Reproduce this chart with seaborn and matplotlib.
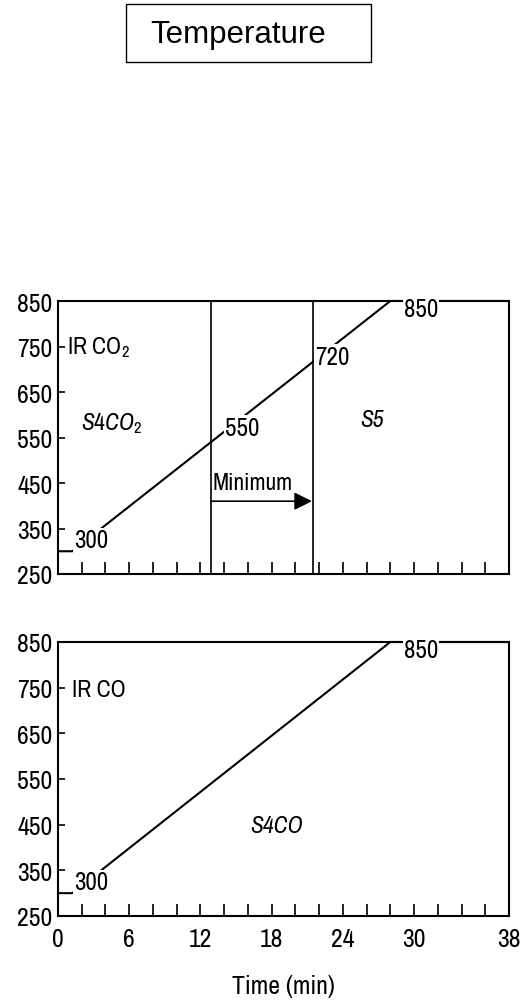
import matplotlib
matplotlib.use("Agg")
import matplotlib.pyplot as plt
import seaborn as sns
import pandas as pd
from matplotlib.patches import Rectangle

# ---- data ----
time_min = [0, 1.2, 28, 38]
temp_c = [300, 300, 850, 850]
phase_bounds = [12.9, 21.5]
y_ticks = [250, 350, 450, 550, 650, 750, 850]
x_ticks = list(range(0, 39, 2))
x_tick_labels = {0: "0", 6: "6", 12: "12", 18: "18", 24: "24", 30: "30", 38: "38"}

df = pd.DataFrame({"Time (min)": time_min, "Temperature": temp_c})

sns.set_theme(style="white")
NARROW = ["Archivo Narrow", "DejaVu Sans"]
plt.rcParams["font.family"] = NARROW
plt.rcParams["mathtext.fontset"] = "custom"
plt.rcParams["mathtext.rm"] = "Archivo Narrow"
plt.rcParams["mathtext.it"] = "Archivo Narrow:italic"
for k in ["text.color", "axes.labelcolor", "xtick.color", "ytick.color"]:
    plt.rcParams[k] = "black"

fig = plt.figure(figsize=(5.24, 10.03), dpi=100)
W, H = 524, 1003
ax1 = fig.add_axes([58 / W, 1 - 575 / H, 451 / W, 273 / H])
ax2 = fig.add_axes([58 / W, 1 - 917 / H, 451 / W, 274 / H])

LW = 1.5
FS_TICK = 18.5
FS_VAL = 18
FS = 17
for ax in (ax1, ax2):
    sns.lineplot(data=df, x="Time (min)", y="Temperature", ax=ax, color="black",
                 lw=LW, clip_on=False, zorder=3)
    ax.set_xlim(0, 38)
    ax.set_ylim(250, 850)
    ax.set_yticks(y_ticks)
    ax.set_yticklabels([str(v) for v in y_ticks], fontsize=FS_TICK)
    ax.set_xticks(x_ticks)
    ax.tick_params(axis="x", direction="in", length=9, width=1.2, color="black",
                   pad=8, bottom=True)
    ax.tick_params(axis="y", direction="in", length=5, width=1.2, color="black",
                   pad=4, left=True)
    for s in ax.spines.values():
        s.set_color("black")
        s.set_linewidth(LW)
    ax.set_ylabel("")
    # value labels with white background to break the line
    ax.text(2.8, 325, "300", fontsize=FS_VAL, ha="center", va="center", zorder=5,
            bbox=dict(facecolor="white", edgecolor="none", pad=0.5))
    ax.text(30.6, 834, "850", fontsize=FS_VAL, ha="center", va="center", zorder=6,
            clip_on=False, bbox=dict(facecolor="white", edgecolor="none", pad=0.5))

ax1.set_xticklabels([""] * len(x_ticks))
ax1.set_xlabel("")
ax2.set_xticklabels([x_tick_labels.get(v, "") for v in x_ticks], fontsize=FS_TICK)
ax2.set_xlabel("Time (min)", fontsize=FS_TICK, labelpad=17)

# top panel annotations
for xb in phase_bounds:
    ax1.axvline(xb, color="black", lw=1.2, zorder=7)
ax1.text(0.75, 750, "IR CO$_2$", fontsize=FS, ha="left", va="center")
ax1.text(4.5, 582, r"$\mathit{S4CO}_{\mathit{2}}$", fontsize=FS, ha="center", va="center")
ax1.text(26.5, 590, "S5", fontsize=FS, ha="center", va="center", style="italic")
ax1.text(16.4, 452, "Minimum", fontsize=FS, ha="center", va="center")
ax1.annotate("", xy=(phase_bounds[1] - 0.1, 410), xytext=(phase_bounds[0], 410),
             arrowprops=dict(arrowstyle="-|>,head_length=0.9,head_width=0.45",
                             color="black", lw=1.2, shrinkA=0, shrinkB=0))
ax1.text(15.5, 572, "550", fontsize=FS_VAL, ha="center", va="center", zorder=5,
         bbox=dict(facecolor="white", edgecolor="none", pad=0.5))
ax1.text(23.1, 728, "720", fontsize=FS_VAL, ha="center", va="center", zorder=5,
         bbox=dict(facecolor="white", edgecolor="none", pad=0.5))

# bottom panel annotations
ax2.text(1.2, 747, "IR CO", fontsize=FS, ha="left", va="center")
ax2.text(18.4, 448, "S4CO", fontsize=FS, ha="center", va="center", style="italic")

# title box
fig.patches.append(Rectangle((126 / W, 1 - 63 / H), 245 / W, 58 / H,
                             transform=fig.transFigure, fill=False,
                             edgecolor="black", lw=1.0))
fig.text(238 / W, 1 - 35 / H, "Temperature", fontsize=22.5, ha="center", va="center",
         family=["Liberation Sans", "DejaVu Sans"])

fig.savefig("out.png", dpi=100, facecolor="white")
